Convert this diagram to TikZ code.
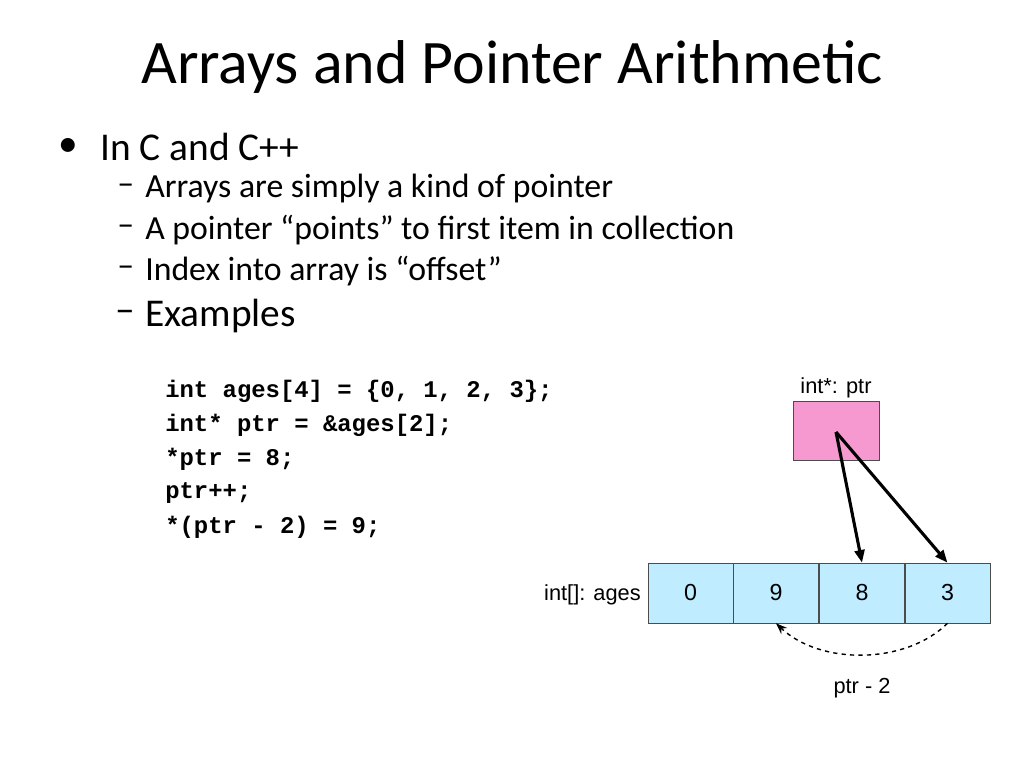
\documentclass[tikz,border=0pt]{standalone}
\usepackage{fontspec}
\setmainfont{Carlito}
\newfontfamily\arialfont{Liberation Sans}
\newfontfamily\codefont{Liberation Mono}
\usetikzlibrary{arrows.meta}
\tikzset{
  bodytext/.style={anchor=west, inner sep=0pt, font=\fontsize{24}{28}\selectfont},
  codeline/.style={anchor=west, inner sep=0pt, font=\codefont\bfseries\fontsize{17}{20}\selectfont},
  cell/.style={draw=black!70, fill=blue!30!cyan!25, minimum width=85\pxu, minimum height=60\pxu, inner sep=0pt, font=\arialfont\fontsize{16.5}{20}\selectfont},
  lbl/.style={inner sep=0pt, font=\arialfont\fontsize{15.5}{18}\selectfont},
  ptrarrow/.style={-{Triangle[length=9pt,width=7pt]}, line width=2.2pt}
}
\newlength{\pxu}
\setlength{\pxu}{0.025cm}
\begin{document}
\begin{tikzpicture}[x=0.025cm, y=-0.025cm]
    \useasboundingbox[fill=white] (0,0) rectangle (1024,768);
    % Title and bullets
    \node[inner sep=0pt, font=\fontsize{44}{50}\selectfont] (title) at (512,67) {Arrays and Pointer Arithmetic};
    \node[bodytext, font=\fontsize{28}{32}\selectfont] (b0) at (58,147) {\textbullet};
    \node[bodytext, font=\fontsize{28}{32}\selectfont] (b1) at (100,147) {In C and C++};
    \node[bodytext] (d1) at (117,189) {--};
    \node[bodytext] (s1) at (145,189) {Arrays are simply a kind of pointer};
    \node[bodytext] (d2) at (117,230) {--};
    \node[bodytext] (s2) at (145,230) {A pointer “points” to first item in collection};
    \node[bodytext] (d3) at (117,271) {--};
    \node[bodytext] (s3) at (145,271) {Index into array is “offset”};
    \node[bodytext, font=\fontsize{28}{32}\selectfont] (d4) at (115,316) {--};
    \node[bodytext, font=\fontsize{28}{32}\selectfont] (s4) at (145,316) {Examples};

    % Code
    \node[codeline] (c1) at (165,391) {int ages[4] = \{0, 1, 2, 3\};};
    \node[codeline] (c2) at (165,425) {int* ptr = \&ages[2];};
    \node[codeline] (c3) at (165,459) {*ptr = 8;};
    \node[codeline] (c4) at (165,493) {ptr++;};
    \node[codeline] (c5) at (165,527) {*(ptr - 2) = 9;};

    % Pointer box
    \node[draw=black!70, fill=magenta!40, minimum width=86\pxu, minimum height=59\pxu] (ptr) at (836,430.5) {};
    \node[lbl] (ptrlbl) at (836,388) {int*: ptr};
    \coordinate (ptrdot) at (836,432);

    % Array cells
    \node[cell] (a0) at (690.5,593) {0};
    \node[cell] (a1) at (776,593) {9};
    \node[cell] (a2) at (862,593) {8};
    \node[cell] (a3) at (947.5,593) {3};
    \node[lbl, anchor=east] (agelbl) at (641,595) {int[]: ages};

    % Arrows
    \draw[ptrarrow] (ptrdot) -- (a2.north);
    \draw[ptrarrow] (ptrdot) -- (a3.north);
    \draw[dashed, line width=1pt, -{Stealth[length=8pt,width=6pt]}] (a3.south) .. controls (905,665) and (820,665) .. (a1.south);
    \node[lbl] (offlbl) at (862,688) {ptr - 2};
\end{tikzpicture}
\end{document}
